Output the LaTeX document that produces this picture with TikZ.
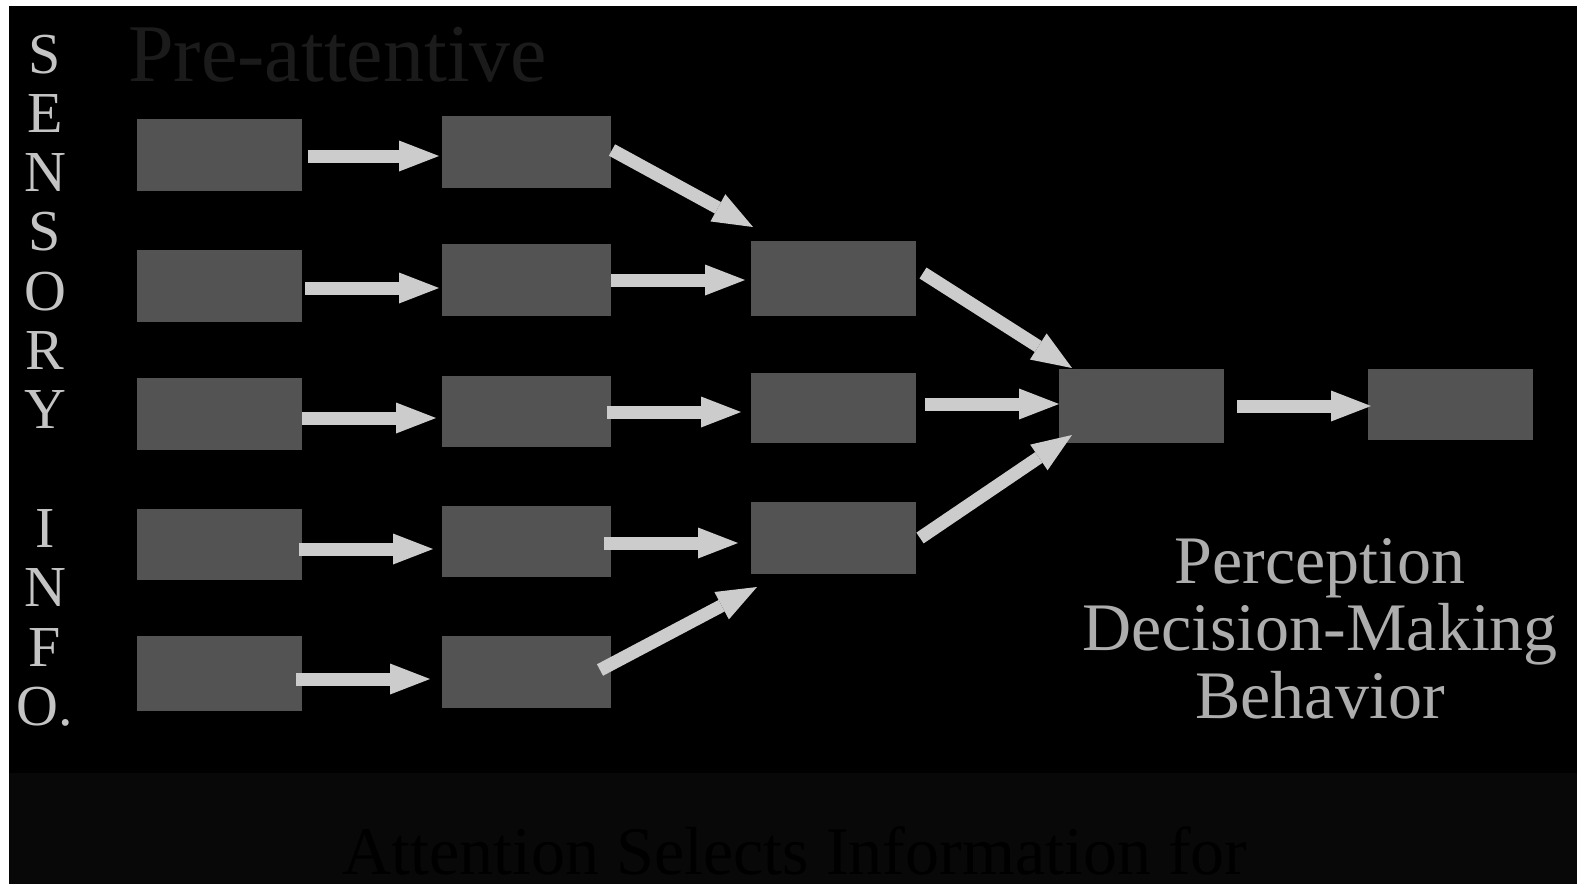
\documentclass[tikz,border=0pt]{standalone}
\usepackage{fontspec}
\setmainfont{Liberation Serif}
\usetikzlibrary{arrows.meta}
\definecolor{boxc}{HTML}{535353}
\definecolor{arrc}{HTML}{CCCCCC}
\definecolor{lettc}{HTML}{C4C4C4}
\definecolor{percc}{HTML}{ADADAD}
\definecolor{prec}{HTML}{1B1B1B}
\definecolor{bandc}{HTML}{080808}
\begin{document}
\begin{tikzpicture}[x=1pt,y=-1pt,
  box/.style={fill=boxc,inner sep=0pt,outer sep=0pt,minimum width=165pt,minimum height=72pt},
  arr/.style={draw=arrc,line width=13pt,-{Triangle[length=40pt,width=31pt,line width=0pt 0 0]}},
]
\useasboundingbox (0,0) rectangle (1577,884);
\fill[white] (0,0) rectangle (1577,884);
\fill[black] (9,6) rectangle (1577,884);
\fill[bandc] (9,773) rectangle (1577,884);

% column 1
\node[box] (a1) at (219.5,155) {};
\node[box] (a2) at (219.5,286) {};
\node[box] (a3) at (219.5,414) {};
\node[box,minimum height=71pt] (a4) at (219.5,544.5) {};
\node[box,minimum height=75pt] (a5) at (219.5,673.5) {};
% column 2
\node[box,minimum width=169pt] (b1) at (526.5,152) {};
\node[box,minimum width=169pt] (b2) at (526.5,280) {};
\node[box,minimum width=169pt,minimum height=71pt] (b3) at (526.5,411.5) {};
\node[box,minimum width=169pt,minimum height=71pt] (b4) at (526.5,541.5) {};
\node[box,minimum width=169pt] (b5) at (526.5,672) {};
% column 3
\node[box,minimum height=75pt] (c1) at (833.5,278.5) {};
\node[box,minimum height=70pt] (c2) at (833.5,408) {};
\node[box] (c3) at (833.5,538) {};
% column 4, 5
\node[box,minimum height=74pt] (d) at (1141.5,406) {};
\node[box,minimum height=71pt] (e) at (1450.5,404.5) {};

% arrows
\draw[arr] ([shift={(6,1)}]a1.east) -- ([shift={(-3,4)}]b1.west);
\draw[arr] ([shift={(3,2)}]a2.east) -- ([shift={(-3,8)}]b2.west);
\draw[arr] ([shift={(0,4)}]a3.east) -- ([shift={(-6,6.5)}]b3.west);
\draw[arr] ([shift={(-3,4.5)}]a4.east) -- ([shift={(-9,7.5)}]b4.west);
\draw[arr] ([shift={(-6,5.5)}]a5.east) -- ([shift={(-12,7)}]b5.west);

\draw[arr] ([shift={(1,-2)}]b1.east) -- ([shift={(2,-14)}]c1.north west);
\draw[arr] ([shift={(0,0)}]b2.east) -- ([shift={(-6,1.5)}]c1.west);
\draw[arr] ([shift={(-4,0.5)}]b3.east) -- ([shift={(-10,4)}]c2.west);
\draw[arr] ([shift={(-7,1.5)}]b4.east) -- ([shift={(-13,5)}]c3.west);
\draw[arr] ([shift={(-11,-2)}]b5.east) -- ([shift={(6,13)}]c3.south west);

\draw[arr] ([shift={(7,-5.5)}]c1.east) -- ([shift={(13,-1)}]d.north west);
\draw[arr] ([shift={(9,-4)}]c2.east) -- ([shift={(0,-2)}]d.west);
\draw[arr] ([shift={(4,0)}]c3.east) -- ([shift={(13,-8)}]d.south west);

\draw[arr] ([shift={(13,0)}]d.east) -- ([shift={(3,1.5)}]e.west);

% texts (base anchor = baseline of the last line)
\node[font=\fontsize{58}{59.3}\selectfont,text=lettc,align=center,anchor=base,inner sep=0pt] (sens) at (45,725.3)
  {S\\E\\N\\S\\O\\R\\Y\\[59.3pt]I\\N\\F\\O.};
\node[font=\fontsize{82}{90}\selectfont,text=prec,anchor=base west,inner sep=0pt] (pre) at (128,81) {Pre-attentive};
\node[font=\fontsize{68}{67.5}\selectfont,text=percc,align=center,anchor=base,inner sep=0pt] (perc) at (1320,718)
  {Perception\\Decision-Making\\Behavior};
\node[font=\fontsize{68}{70}\selectfont,text=black,anchor=base,inner sep=0pt,text depth=0pt] (att) at (795,874) {Attention Selects Information for};
\end{tikzpicture}
\end{document}
